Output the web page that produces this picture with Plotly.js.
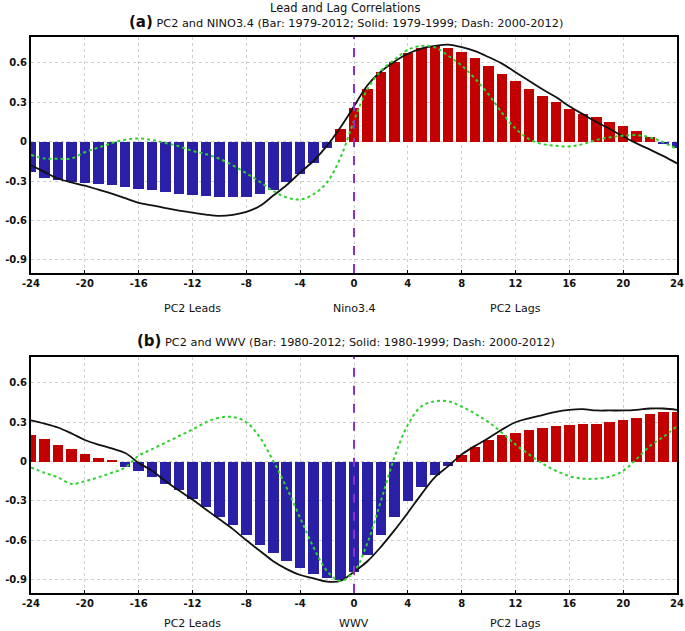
<!DOCTYPE html>
<html>
<head>
<meta charset="utf-8">
<script src="https://cdn.plot.ly/plotly-3.0.1.min.js"></script>
<style>html,body{margin:0;padding:0;background:#fff;}#chart{width:685px;height:631px;}</style>
</head>
<body>
<div id="chart"></div>
<script>
// Lags (months)
const lags = [-24,-23,-22,-21,-20,-19,-18,-17,-16,-15,-14,-13,-12,-11,-10,-9,-8,-7,-6,-5,-4,-3,-2,-1,0,1,2,3,4,5,6,7,8,9,10,11,12,13,14,15,16,17,18,19,20,21,22,23,24];

// Panel (a): PC2 and NINO3.4
const barA = [-0.23,-0.28,-0.29,-0.31,-0.315,-0.32,-0.33,-0.345,-0.36,-0.37,-0.38,-0.40,-0.405,-0.41,-0.42,-0.42,-0.42,-0.40,-0.37,-0.31,-0.245,-0.16,-0.05,0.095,0.255,0.40,0.53,0.605,0.675,0.715,0.73,0.715,0.68,0.635,0.575,0.515,0.46,0.40,0.345,0.30,0.25,0.21,0.185,0.15,0.12,0.08,0.035,-0.015,-0.05];
const solidA = [-0.18,-0.23,-0.28,-0.31,-0.335,-0.365,-0.395,-0.43,-0.465,-0.485,-0.505,-0.525,-0.54,-0.555,-0.565,-0.557,-0.535,-0.49,-0.41,-0.33,-0.235,-0.145,-0.03,0.11,0.27,0.43,0.535,0.61,0.67,0.71,0.73,0.74,0.72,0.69,0.645,0.595,0.53,0.465,0.40,0.34,0.27,0.21,0.15,0.097,0.04,-0.013,-0.06,-0.11,-0.165];
const dashA = [-0.10,-0.127,-0.13,-0.127,-0.08,-0.045,-0.01,0.015,0.025,0.013,-0.01,-0.035,-0.07,-0.095,-0.13,-0.18,-0.24,-0.305,-0.375,-0.425,-0.44,-0.40,-0.31,-0.12,0.16,0.40,0.54,0.625,0.70,0.73,0.72,0.655,0.58,0.48,0.36,0.22,0.10,0.02,-0.018,-0.03,-0.036,-0.018,0.013,0.033,0.046,0.05,0.033,-0.005,-0.056];

// Panel (b): PC2 and WWV
const barB = [0.20,0.17,0.13,0.095,0.06,0.03,0.01,-0.04,-0.075,-0.12,-0.17,-0.22,-0.285,-0.35,-0.42,-0.485,-0.56,-0.635,-0.70,-0.76,-0.81,-0.855,-0.89,-0.90,-0.84,-0.71,-0.56,-0.42,-0.30,-0.19,-0.105,-0.03,0.05,0.11,0.165,0.205,0.22,0.24,0.26,0.27,0.28,0.29,0.29,0.30,0.315,0.335,0.365,0.375,0.38];
const solidB = [0.315,0.29,0.26,0.215,0.165,0.13,0.10,0.065,-0.01,-0.07,-0.15,-0.22,-0.29,-0.365,-0.44,-0.515,-0.60,-0.68,-0.76,-0.82,-0.865,-0.89,-0.915,-0.91,-0.84,-0.76,-0.65,-0.525,-0.39,-0.25,-0.12,-0.035,0.055,0.12,0.18,0.245,0.30,0.33,0.355,0.38,0.395,0.40,0.39,0.39,0.39,0.395,0.405,0.405,0.395];
const dashB = [-0.045,-0.085,-0.12,-0.17,-0.15,-0.12,-0.085,-0.045,0.045,0.095,0.145,0.195,0.245,0.30,0.335,0.34,0.30,0.185,0.005,-0.20,-0.43,-0.655,-0.835,-0.91,-0.84,-0.62,-0.30,0.03,0.28,0.42,0.46,0.46,0.42,0.365,0.30,0.22,0.13,0.055,-0.015,-0.07,-0.11,-0.13,-0.13,-0.115,-0.07,0.02,0.12,0.19,0.27];

// Tick labels
const xTickVals = [-24,-20,-16,-12,-8,-4,0,4,8,12,16,20,24];
const xTickText = ["-24","-20","-16","-12","-8","-4","0","4","8","12","16","20","24"];
const yTickVals = [0.6,0.3,0,-0.3,-0.6,-0.9];
const yTickText = ["0.6","0.3","0","-0.3","-0.6","-0.9"];

const RED = "#c20000", BLUE = "#2a20a6", GREEN = "#2fd12f", PURPLE = "#8a2fd0";
const colorOf = v => v.map(d => d >= 0 ? RED : BLUE);

function panel(bar, solid, dash, xa, ya) {
  return [
    {type:"bar", x:lags, y:bar, width:0.78, marker:{color:colorOf(bar), line:{width:0}}, xaxis:xa, yaxis:ya, hoverinfo:"x+y"},
    {type:"scatter", mode:"lines", x:lags, y:solid, line:{color:"#111", width:1.8, shape:"spline"}, xaxis:xa, yaxis:ya},
    {type:"scatter", mode:"lines", x:lags, y:dash, line:{color:GREEN, width:2, dash:"dot", shape:"spline"}, xaxis:xa, yaxis:ya}
  ];
}

const data = [].concat(panel(barA, solidA, dashA, "x", "y"), panel(barB, solidB, dashB, "x2", "y2"));

const tickFont = {family:"DejaVu Sans", size:10, color:"#111", weight:"bold"};
const xCommon = {range:[-24,24], tickvals:xTickVals, ticktext:xTickText, showgrid:true, gridcolor:"#cfcfcf", griddash:"dot", gridwidth:1, zeroline:false, showline:true, linecolor:"#000", linewidth:2, mirror:true, ticks:"inside", ticklen:3, tickcolor:"#000", tickfont:tickFont, domain:[31/685, 677/685]};
const yCommon = {range:[-1,0.8], tickvals:yTickVals, ticktext:yTickText, showgrid:true, gridcolor:"#cfcfcf", griddash:"dot", gridwidth:1, zeroline:false, showline:true, linecolor:"#000", linewidth:2, mirror:true, ticks:"", tickfont:tickFont};

const lblFont = {family:"DejaVu Sans", size:11, color:"#111"};
const subFont = {family:"DejaVu Sans", size:11.3, color:"#111"};
const annotations = [
  {text:"Lead and Lag Correlations", xref:"paper", yref:"paper", x:0.503, y:1-8/631, showarrow:false, font:{family:"DejaVu Sans", size:11.5, color:"#111"}, yanchor:"middle"},
  {text:"<b style='font-size:15px'>(a)</b> PC2 and NINO3.4 (Bar: 1979-2012; Solid: 1979-1999; Dash: 2000-2012)", xref:"paper", yref:"paper", x:0.505, y:1-22/631, showarrow:false, font:subFont, yanchor:"middle"},
  {text:"<b style='font-size:15px'>(b)</b> PC2 and WWV (Bar: 1980-2012; Solid: 1980-1999; Dash: 2000-2012)", xref:"paper", yref:"paper", x:0.505, y:1-341/631, showarrow:false, font:subFont, yanchor:"middle"},
  {text:"PC2 Leads", xref:"x", yref:"paper", x:-12, y:1-308/631, showarrow:false, font:lblFont, yanchor:"middle"},
  {text:"Nino3.4", xref:"x", yref:"paper", x:0, y:1-308/631, showarrow:false, font:lblFont, yanchor:"middle"},
  {text:"PC2 Lags", xref:"x", yref:"paper", x:12, y:1-308/631, showarrow:false, font:lblFont, yanchor:"middle"},
  {text:"PC2 Leads", xref:"x2", yref:"paper", x:-12, y:1-623/631, showarrow:false, font:lblFont, yanchor:"middle"},
  {text:"WWV", xref:"x2", yref:"paper", x:0, y:1-623/631, showarrow:false, font:lblFont, yanchor:"middle"},
  {text:"PC2 Lags", xref:"x2", yref:"paper", x:12, y:1-623/631, showarrow:false, font:lblFont, yanchor:"middle"}
];

const shapes = [
  {type:"line", xref:"x", yref:"y domain", x0:0, x1:0, y0:0, y1:1, line:{color:PURPLE, width:2, dash:"dash"}},
  {type:"line", xref:"x2", yref:"y2 domain", x0:0, x1:0, y0:0, y1:1, line:{color:PURPLE, width:2, dash:"dash"}}
];

const layout = {
  width:685, height:631, margin:{l:0, r:0, t:0, b:0},
  paper_bgcolor:"#fff", plot_bgcolor:"#fff", showlegend:false, bargap:0,
  xaxis:Object.assign({}, xCommon, {anchor:"y"}),
  yaxis:Object.assign({}, yCommon, {domain:[1-273/631, 1-36.7/631], anchor:"x"}),
  xaxis2:Object.assign({}, xCommon, {anchor:"y2"}),
  yaxis2:Object.assign({}, yCommon, {domain:[1-592.7/631, 1-356.7/631], anchor:"x2"}),
  annotations:annotations, shapes:shapes
};

Plotly.newPlot("chart", data, layout, {displayModeBar:false, staticPlot:true});
</script>
</body>
</html>
